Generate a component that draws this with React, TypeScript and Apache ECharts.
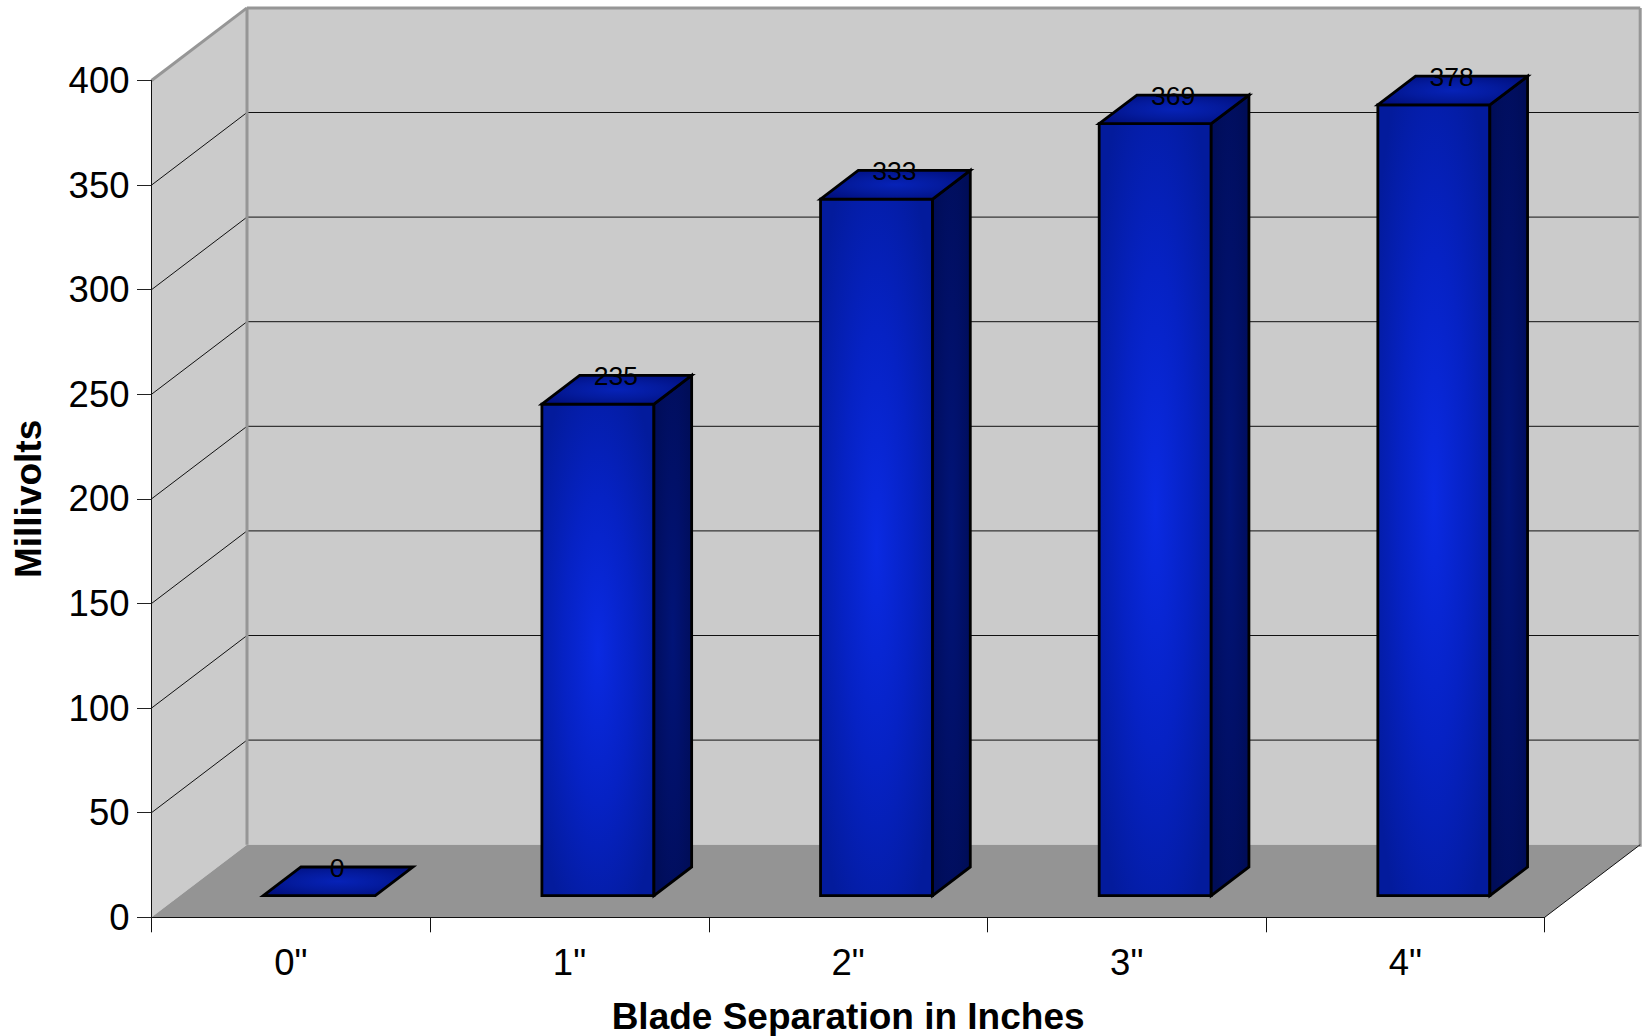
import React, { useEffect, useRef } from "react";
import * as echarts from "echarts";

const categories = ['0"', '1"', '2"', '3"', '4"'];
const millivolts = [0, 235, 333, 369, 378];
const wallTicks = [50, 100, 150, 200, 250, 300, 350];
const yMax = 400;
const yStep = 50;

const FONT = '"Liberation Sans", Arial, sans-serif';
const WALL_DX = 95.5;
const WALL_DY = -72.6;
const BAR_OFFSET = 0.298; // share of wall depth in front of the bar
const BAR_DEPTH = 0.395;
const BAR_WIDTH = 0.402; // share of the band
const WALL = "#cbcbcb";
const FLOOR = "#949494";
const EDGE = "#969696";

const radial = (inner: string, mid: string, outer: string, r = 0.62) =>
  new echarts.graphic.RadialGradient(0.5, 0.5, r, [
    { offset: 0, color: inner },
    { offset: 0.5, color: mid },
    { offset: 1, color: outer },
  ]);

const poly = (points: number[][], style: any) => ({
  type: "polygon",
  shape: { points },
  style,
});

const line = (x1: number, y1: number, x2: number, y2: number, stroke: string, lineWidth: number) => ({
  type: "line",
  shape: { x1, y1, x2, y2 },
  style: { stroke, lineWidth, fill: "none" },
});

function renderWalls(params: any, api: any) {
  const { x, y, width, height } = params.coordSys;
  const x2 = x + width;
  const y0 = y + height;
  const dx = WALL_DX;
  const dy = WALL_DY;
  const children: any[] = [
    poly([[x, y], [x + dx, y + dy], [x + dx, y0 + dy], [x, y0]], { fill: WALL }),
    poly([[x + dx, y + dy], [x2 + dx, y + dy], [x2 + dx, y0 + dy], [x + dx, y0 + dy]], { fill: WALL }),
    poly([[x, y0], [x2, y0], [x2 + dx, y0 + dy], [x + dx, y0 + dy]], { fill: FLOOR }),
  ];
  wallTicks.forEach((t) => {
    const ty = api.coord([0, t])[1];
    children.push(line(x, ty, x + dx, ty + dy, "#111", 1));
    children.push(line(x + dx, ty + dy, x2 + dx, ty + dy, "#111", 1));
  });
  children.push(line(x, y, x + dx, y + dy, EDGE, 3));
  children.push(line(x + dx, y + dy, x2 + dx, y + dy, EDGE, 3));
  children.push(line(x + dx, y + dy, x + dx, y0 + dy, EDGE, 3));
  children.push(line(x2 + dx, y + dy, x2 + dx, y0 + dy + 2, EDGE, 3));
  children.push(line(x2, y0, x2 + dx, y0 + dy, "#111", 1));
  return { type: "group", children };
}

function renderBar(_params: any, api: any) {
  const idx = api.value(0);
  const val = api.value(1);
  const base = api.coord([idx, 0]);
  const top = api.coord([idx, val]);
  const w = api.size([1, 0])[0] * BAR_WIDTH;
  const ox = WALL_DX * BAR_OFFSET;
  const oy = WALL_DY * BAR_OFFSET;
  const dx = WALL_DX * BAR_DEPTH;
  const dy = WALL_DY * BAR_DEPTH;
  const l = base[0] + ox - w / 2;
  const r = l + w;
  const b = base[1] + oy;
  const t = top[1] + oy;
  const stroke = { stroke: "#000", lineWidth: 2.8, lineJoin: "miter" };
  const children: any[] = [];
  if (val > 0) {
    children.push(
      poly([[l, t], [r, t], [r, b], [l, b]], {
        fill: radial("#0a2ae2", "#0622c4", "#031b9c"),
        ...stroke,
      }),
      poly([[r, t], [r + dx, t + dy], [r + dx, b + dy], [r, b]], {
        fill: radial("#011478", "#011068", "#000d58"),
        ...stroke,
      })
    );
  }
  children.push(
    poly([[l, t], [l + dx, t + dy], [r + dx, t + dy], [r, t]], {
      fill: radial("#0622b8", "#041b9e", "#011080", 0.6),
      ...stroke,
    }),
    {
      type: "text",
      x: (l + r) / 2 + dx / 2 - 1,
      y: t + dy + 1,
      style: {
        text: String(val),
        font: `26.5px ${FONT}`,
        fill: "#000",
        align: "center",
        verticalAlign: "middle",
      },
    }
  );
  return { type: "group", children };
}

export default function App() {
  const ref = useRef<HTMLDivElement>(null);
  useEffect(() => {
    document.body.style.margin = "0";
    const chart = echarts.init(ref.current!, undefined, { renderer: "svg" });
    chart.setOption({
      animation: false,
      backgroundColor: "#fff",
      grid: { left: 151.5, top: 80.5, width: 1393.2, height: 836.8, containLabel: false, outerBoundsMode: "none" },
      xAxis: {
        type: "category",
        data: categories,
        z: 10,
        boundaryGap: true,
        axisLine: { show: true, lineStyle: { color: "#111", width: 1 } },
        axisTick: { show: true, length: 15, alignWithLabel: false, lineStyle: { color: "#111", width: 1 } },
        axisLabel: { fontFamily: FONT, fontSize: 36.5, color: "#000", margin: 27 },
        name: "Blade Separation in Inches",
        nameLocation: "middle",
        nameGap: 81,
        nameTextStyle: { fontFamily: FONT, fontSize: 37, fontWeight: "bold", color: "#000" },
      },
      yAxis: {
        type: "value",
        min: 0,
        max: yMax,
        interval: yStep,
        z: 10,
        splitLine: { show: false },
        axisLine: { show: true, lineStyle: { color: "#111", width: 1 } },
        axisTick: { show: true, length: 14.5, lineStyle: { color: "#222", width: 1 } },
        axisLabel: { fontFamily: FONT, fontSize: 36.5, color: "#000", margin: 22 },
        name: "Millivolts",
        nameLocation: "middle",
        nameGap: 105,
        nameTextStyle: { fontFamily: FONT, fontSize: 37, fontWeight: "bold", color: "#000" },
      },
      series: [
        { type: "custom", z: 1, silent: true, data: [[0, 0]], renderItem: renderWalls },
        { type: "custom", z: 3, data: millivolts.map((v, i) => [i, v]), encode: { x: 0, y: 1 }, renderItem: renderBar },
      ],
    });
    return () => chart.dispose();
  }, []);
  return <div ref={ref} style={{ position: "absolute", left: 0, top: 0, width: 1648, height: 1036 }} />;
}
